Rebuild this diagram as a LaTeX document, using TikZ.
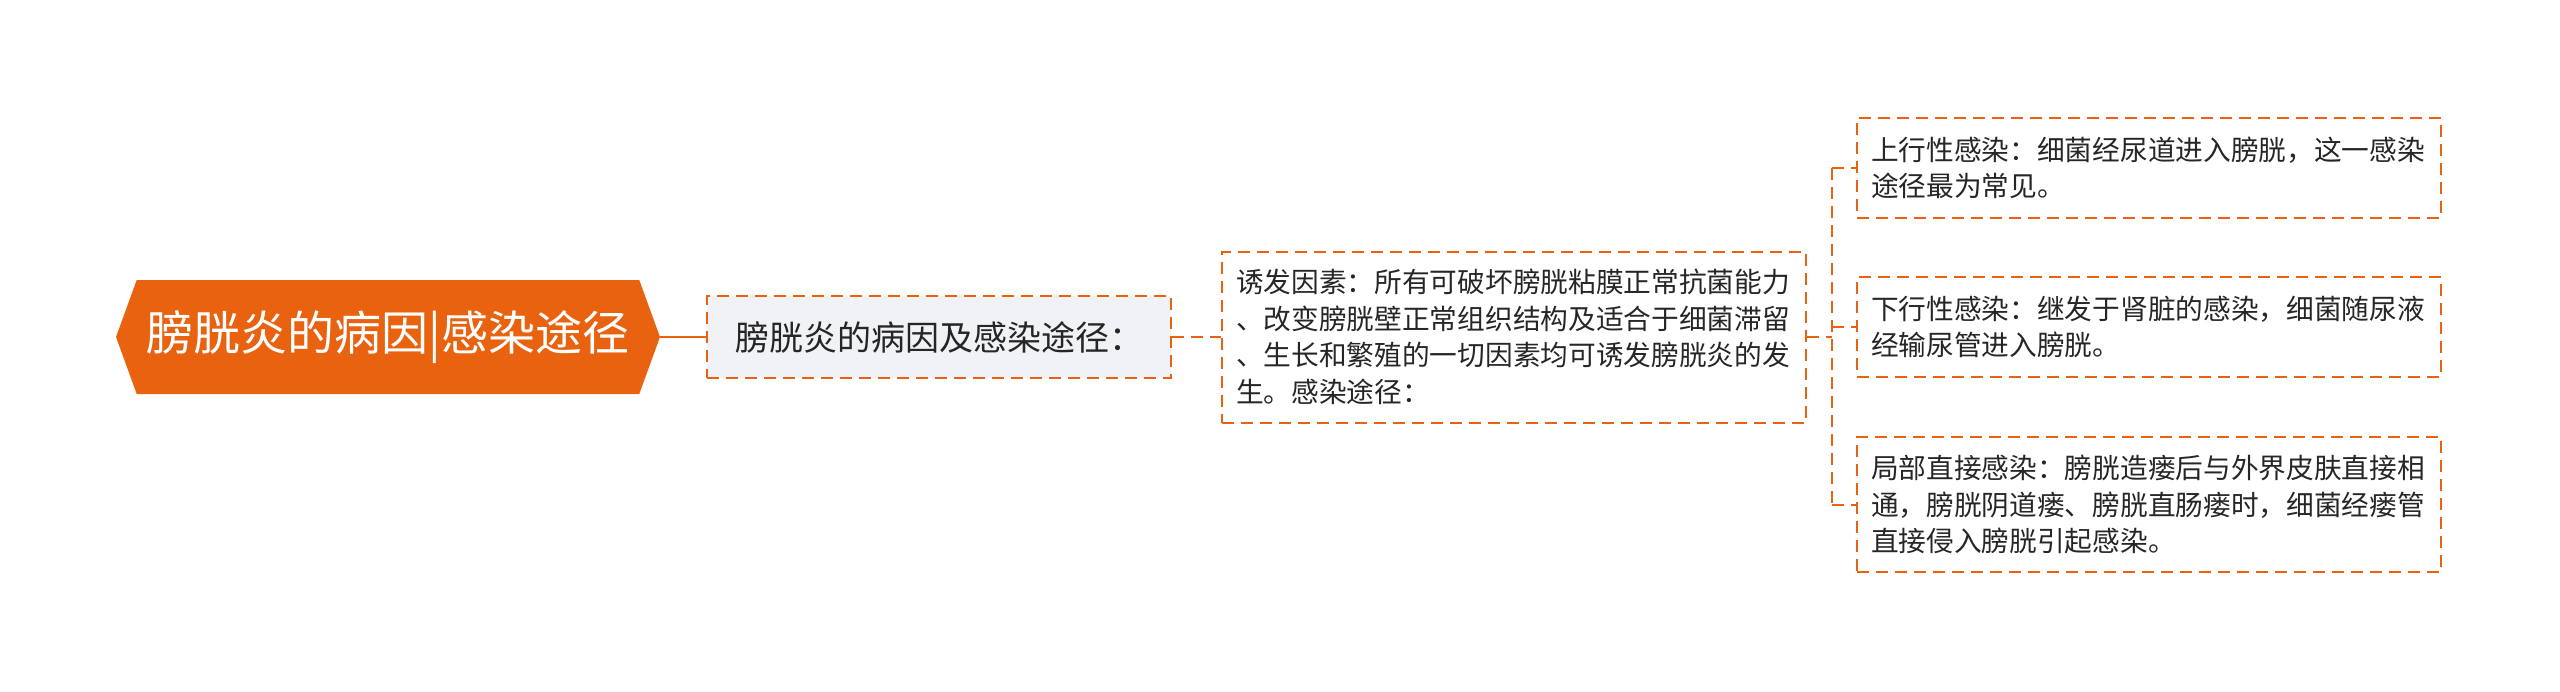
\documentclass[tikz,border=0pt]{standalone}
\usepackage{fontspec}
\setmainfont{Noto Sans CJK SC}
\usetikzlibrary{shapes.symbols}
\definecolor{rootorange}{HTML}{E8620F}
\definecolor{topicgray}{HTML}{F0F2F5}
\begin{document}
\begin{tikzpicture}
[x=0.5pt, y=-0.5pt,
 rootbox/.style={shape=signal, signal to=west and east, signal pointer angle=140, fill=rootorange, text=white, minimum width=272pt, minimum height=57pt, inner sep=0pt, font=\fontsize{23.5}{28}\selectfont},
 dashbox/.style={draw=rootorange, line width=1pt, dash pattern=on 6pt off 3.5pt, text=black!85},
 topicbox/.style={dashbox, fill=topicgray, minimum width=232pt, minimum height=41pt, font=\fontsize{17}{22}\selectfont},
 leafbox/.style={dashbox, align=left, text width=278pt, inner xsep=7pt, font=\fontsize{13.85}{18.25}\selectfont},
 link/.style={draw=rootorange, line width=1pt, dash pattern=on 6pt off 3.5pt}]
\useasboundingbox (0,0) rectangle (2560,691);
\node[rootbox] (root) at (388,337) {膀胱炎的病因|感染途径};
\node[topicbox] (topic) at (939,337) {膀胱炎的病因及感染途径：};
\node[leafbox, minimum height=85.5pt] (cause) at (1514,337) {诱发因素：所有可破坏膀胱粘膜正常抗菌能力\\、改变膀胱壁正常组织结构及适合于细菌滞留\\、生长和繁殖的一切因素均可诱发膀胱炎的发\\生。感染途径：};
\coordinate (fork) at (1832,337);
\node[leafbox, minimum height=50pt] (up) at (2149,168) {上行性感染：细菌经尿道进入膀胱，这一感染\\途径最为常见。};
\node[leafbox, minimum height=50pt] (down) at (2149,327) {下行性感染：继发于肾脏的感染，细菌随尿液\\经输尿管进入膀胱。};
\node[leafbox, minimum height=67.5pt] (local) at (2149,504.5) {局部直接感染：膀胱造瘘后与外界皮肤直接相\\通，膀胱阴道瘘、膀胱直肠瘘时，细菌经瘘管\\直接侵入膀胱引起感染。};
\draw[rootorange, line width=1.4pt] (root.east) -- (topic.west);
\draw[link] (topic.east) -- (cause.west);
\draw[link] (cause.east) -- (fork);
\draw[link] (fork |- up.west) -- (fork |- local.west);
\draw[link] (fork |- up.west) -- (up.west);
\draw[link] (fork |- down.west) -- (down.west);
\draw[link] (fork |- local.west) -- (local.west);
\end{tikzpicture}
\end{document}
